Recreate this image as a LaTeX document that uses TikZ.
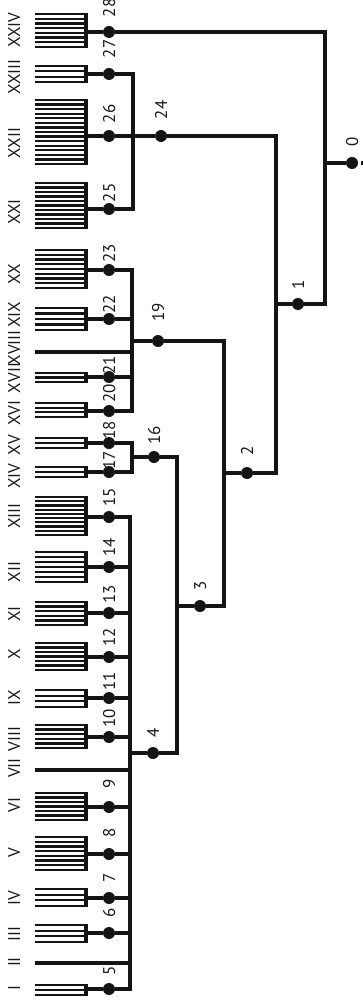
\documentclass[tikz,border=0pt]{standalone}
\usepackage{fontspec}
\setmainfont{PT Sans}
\tikzset{
  main/.style={line width=3.2pt, draw=black!92},
  tine/.style={line width=2.3pt, draw=black!92},
  dot/.style={circle, fill=black!92, inner sep=0pt, minimum size=12pt},
  lbl/.style={rotate=90, anchor=base, inner sep=0pt, font=\fontsize{17}{17}\selectfont, text=black!90},
}
\newcommand\leafcomb[8]{%
  \node[lbl] (r#1) at (20,#7) {#2};
  \foreach \i in {1,...,#6}{\draw[tine] (35,{#3+(\i-1)*(#4-#3)/(#6-1)}) -- (86,{#3+(\i-1)*(#4-#3)/(#6-1)});}
  \draw[main] (86,#3-1) -- (86,#4+1);
  \coordinate (c#1) at (86,#5);
  \node[dot] (d#1) at (109,#5) {};
  \node[lbl] (l#1) at (115,#8) {#1};
  \draw[main] (c#1) -- (d#1);
}
\newcommand\leafline[4]{%
  \node[lbl] (r#1) at (20,#3) {#2};
  \coordinate (s#1) at (35,#4);
}
\begin{document}
\begin{tikzpicture}[x=1pt,y=-1pt]
\useasboundingbox (0,0) rectangle (363,1000);
% leaves
\leafcomb{28}{XXIV}{14}{47}{32}{8}{30}{8}
\leafcomb{27}{XXIII}{66}{82}{74}{4}{77}{49}
\leafcomb{26}{XXII}{100}{164}{136}{15}{143}{114}
\leafcomb{25}{XXI}{183}{228}{209}{11}{212}{193}
\leafcomb{23}{XX}{250}{288}{270}{9}{274}{253}
\leafcomb{22}{XIX}{308}{330}{319}{5}{315}{304}
\leafline{18x}{XVIII}{348}{352}
\leafcomb{21}{XVII}{373}{382}{377}{3}{378}{365}
\leafcomb{20}{XVI}{403}{417}{411}{4}{413}{393}
\leafcomb{18}{XV}{438}{448}{443}{3}{445}{430}
\leafcomb{17}{XIV}{467}{477}{472}{3}{476}{460}
\leafcomb{15}{XIII}{497}{535}{517}{10}{516}{497}
\leafcomb{14}{XII}{552}{582}{567}{7}{572}{547}
\leafcomb{13}{XI}{602}{625}{613}{6}{614}{594}
\leafcomb{12}{X}{643}{670}{657}{7}{654}{637}
\leafcomb{11}{IX}{690}{707}{698}{4}{698}{681}
\leafcomb{10}{VIII}{725}{748}{737}{6}{739}{718}
\leafline{7x}{VII}{768}{770}
\leafcomb{9}{VI}{793}{820}{807}{7}{805}{784}
\leafcomb{8}{V}{837}{870}{854}{8}{853}{833}
\leafcomb{7}{IV}{889}{906}{898}{4}{898}{878}
\leafcomb{6}{III}{925}{942}{933}{4}{934}{913}
\leafline{2x}{II}{962}{963}
\leafcomb{5}{I}{985}{995}{989}{3}{988}{971}
% internal nodes
\node[dot] (d24) at (161,136) {}; \node[lbl] (l24) at (167,110) {24};
\node[dot] (d19) at (158,341) {}; \node[lbl] (l19) at (164,312) {19};
\node[dot] (d16) at (154,457) {}; \node[lbl] (l16) at (160,435) {16};
\node[dot] (d4)  at (153,753) {}; \node[lbl] (l4)  at (159,733) {4};
\node[dot] (d3)  at (200,606) {}; \node[lbl] (l3)  at (206,586) {3};
\node[dot] (d2)  at (247,473) {}; \node[lbl] (l2)  at (253,451) {2};
\node[dot] (d1)  at (298,304) {}; \node[lbl] (l1)  at (304,285) {1};
\node[dot] (d0)  at (352,163) {}; \node[lbl] (l0)  at (358,142) {0};
% junction coordinates
\coordinate (j24) at (133,136);
\coordinate (j19) at (132,341);
\coordinate (j16) at (132,457);
\coordinate (j4)  at (130,753);
\coordinate (k3)  at (177,606);
\coordinate (k2)  at (224,473);
\coordinate (k1)  at (276,304);
\coordinate (k0)  at (325,163);
\coordinate (e0)  at (363,163);
% group 24
\draw[main] (d27) -| (j24 |- d25) -- (d25);
\draw[main] (d26) -- (d24);
% group 19
\draw[main] (d23) -| (j19 |- d20) -- (d20);
\draw[main] (d22) -- (j19 |- d22);
\draw[main] (s18x) -- (j19 |- s18x);
\draw[main] (d21) -- (j19 |- d21);
\draw[main] (j19) -- (d19);
% group 16
\draw[main] (d18) -| (j16 |- d17) -- (d17);
\draw[main] (j16) -- (d16);
% group 4
\draw[main] (d15) -| (j4 |- d5) -- (d5);
\foreach \n in {14,13,12,11,10,9,8,7,6}{\draw[main] (d\n) -- (j4 |- d\n);}
\draw[main] (s7x) -- (j4 |- s7x);
\draw[main] (s2x) -- (j4 |- s2x);
\draw[main] (j4) -- (d4);
% upper levels
\draw[main] (d16) -| (k3 |- d4) -- (d4);
\draw[main] (k3) -- (d3);
\draw[main] (d19) -| (k2 |- d3) -- (d3);
\draw[main] (k2) -- (d2);
\draw[main] (d24) -| (k1 |- d2) -- (d2);
\draw[main] (k1) -- (d1);
\draw[main] (d28) -| (k0 |- d1) -- (d1);
\draw[main] (k0) -- (d0);
\draw[main, dash pattern=on 0pt off 3pt on 6pt] (d0) -- (e0);
\end{tikzpicture}
\end{document}
